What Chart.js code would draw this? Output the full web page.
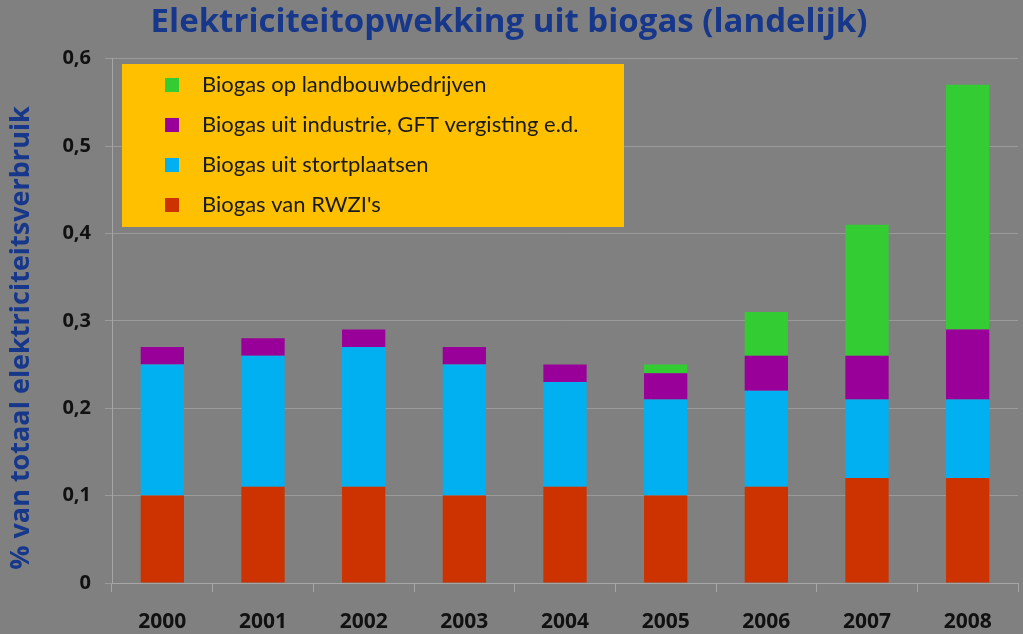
<!DOCTYPE html>
<html>
<head>
<meta charset="utf-8">
<script src="https://cdn.jsdelivr.net/npm/chart.js@4"></script>
<style>
  html, body { margin: 0; padding: 0; background: #808080; }
  #wrap { width: 1023px; height: 634px; }
</style>
</head>
<body>
<div id="wrap"><canvas id="biogasChart" width="1023" height="634"></canvas></div>
<script>
// Data (% of total electricity use)
const years = ['2000', '2001', '2002', '2003', '2004', '2005', '2006', '2007', '2008'];
const rwzi = [0.10, 0.11, 0.11, 0.10, 0.11, 0.10, 0.11, 0.12, 0.12];
const stortplaatsen = [0.15, 0.15, 0.16, 0.15, 0.12, 0.11, 0.11, 0.09, 0.09];
const industrie = [0.02, 0.02, 0.02, 0.02, 0.02, 0.03, 0.04, 0.05, 0.08];
const landbouw = [0, 0, 0, 0, 0, 0.01, 0.05, 0.15, 0.28];
const yTicks = ['0', '0,1', '0,2', '0,3', '0,4', '0,5', '0,6'];
const yTitle = '% van totaal elektriciteitsverbruik';

const fontFam = 'Lato, "Open Sans", sans-serif';
const boldFam = '"Open Sans", Lato, sans-serif';

// Legend drawn as a yellow box inside the plot area (top entry = top of stack),
// plus the rotated y axis title
const boxLegend = {
    id: 'boxLegend',
    afterDraw(chart) {
        const ctx = chart.ctx;
        ctx.save();
        ctx.fillStyle = '#FFC000';
        ctx.fillRect(122, 64, 502, 163);
        ctx.font = '22px ' + fontFam;
        ctx.textBaseline = 'middle';
        const sets = chart.data.datasets.slice().reverse();
        sets.forEach((ds, i) => {
            const y = 85 + i * 40;
            ctx.fillStyle = ds.backgroundColor;
            ctx.fillRect(165, y - 7, 14, 14);
            ctx.fillStyle = '#1a1a1a';
            ctx.fillText(ds.label, 202, y);
        });
        ctx.restore();

        ctx.save();
        ctx.translate(21, 338);
        ctx.rotate(-Math.PI / 2);
        ctx.font = 'bold 27px ' + boldFam;
        ctx.fillStyle = '#17378B';
        ctx.textAlign = 'center';
        ctx.textBaseline = 'middle';
        ctx.fillText(yTitle, 0, 0);
        ctx.restore();
    }
};

const ctx = document.getElementById('biogasChart').getContext('2d');
const biogasChart = new Chart(ctx, {
    type: 'bar',
    data: {
        labels: years,
        datasets: [{
            label: "Biogas van RWZI's",
            data: rwzi,
            backgroundColor: '#CC3300'
        }, {
            label: 'Biogas uit stortplaatsen',
            data: stortplaatsen,
            backgroundColor: '#00B0F0'
        }, {
            label: 'Biogas uit industrie, GFT vergisting e.d.',
            data: industrie,
            backgroundColor: '#990099'
        }, {
            label: 'Biogas op landbouwbedrijven',
            data: landbouw,
            backgroundColor: '#33CC33'
        }]
    },
    options: {
        responsive: false,
        animation: false,
        layout: { padding: { left: 0, right: 5, top: 0, bottom: 0 } },
        datasets: {
            bar: { categoryPercentage: 1, barPercentage: 0.43, borderWidth: 0 }
        },
        plugins: {
            legend: { display: false },
            tooltip: { enabled: false },
            title: {
                display: true,
                text: 'Elektriciteitopwekking uit biogas (landelijk)',
                color: '#17378B',
                font: { family: boldFam, size: 33, weight: 'bold' },
                padding: { top: 3, bottom: 16 }
            }
        },
        scales: {
            x: {
                stacked: true,
                grid: { display: true, drawOnChartArea: false, drawTicks: true, tickLength: 9, color: '#a6a6a6', offset: true },
                border: { display: true, color: '#a6a6a6' },
                ticks: { color: '#111', padding: 17, font: { family: boldFam, size: 21, weight: 'bold' } },
                afterFit: scale => { scale.height = 51; }
            },
            y: {
                stacked: true,
                min: 0,
                max: 0.6,
                grid: { color: '#9a9a9a', tickLength: 7 },
                border: { display: true, color: '#a6a6a6' },
                ticks: {
                    stepSize: 0.1,
                    color: '#111',
                    padding: 14,
                    font: { family: boldFam, size: 20, weight: 'bold' },
                    callback: (v, i) => yTicks[i]
                },
                afterFit: scale => { scale.width = 112; }
            }
        }
    },
    plugins: [boxLegend]
});
</script>
</body>
</html>
